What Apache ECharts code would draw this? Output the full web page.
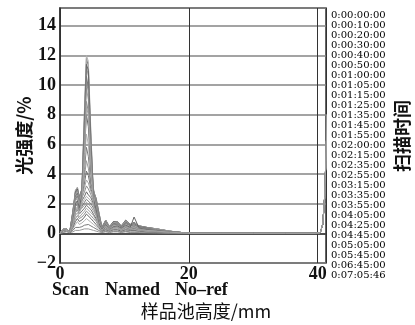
<!DOCTYPE html>
<html><head><meta charset="utf-8">
<script src="https://cdn.jsdelivr.net/npm/echarts@6/dist/echarts.min.js"></script>
<style>html,body{margin:0;padding:0;background:#fff}#c{width:415px;height:325px}</style>
</head><body><div id="c"></div>
<script>
// x positions (mm) of the sampled points in the active region
const xs = [0,0.5,1.0,1.5,2.0,2.4,2.7,3.0,3.4,3.8,4.1,4.4,4.8,5.2,5.6,6.0,6.5,7.1,7.7,8.3,8.9,9.5,10.2,10.9,11.5,12.3,13.5,15.0,17.0,19.0,20.5];
// flat tail and the spike at the top of the cell (shared by all scans)
const tailX = [25,30,35,39.6,40.4,40.8,41.1,41.5];
const tailY = [0,0,0,0,0.05,0.6,2.5,8];
const times = ["0:00:00:00","0:00:10:00","0:00:20:00","0:00:30:00","0:00:40:00","0:00:50:00","0:01:00:00","0:01:05:00","0:01:15:00","0:01:25:00","0:01:35:00","0:01:45:00","0:01:55:00","0:02:00:00","0:02:15:00","0:02:35:00","0:02:55:00","0:03:15:00","0:03:35:00","0:03:55:00","0:04:05:00","0:04:25:00","0:04:45:00","0:05:05:00","0:05:45:00","0:06:45:00","0:07:05:46"];
const t01=[0,0.05,0.1,0.05,0.1,0.2,0.25,0.2,0.25,0.3,0.35,0.3,0.25,0.2,0.15,0.1,0.05,0.1,0.05,0.1,0.1,0.05,0.1,0.05,0.05,0.05,0.04,0.03,0.02,0.01,0];
const t02=[0,0.1,0.15,0.05,0.2,0.4,0.5,0.4,0.45,0.55,0.65,0.6,0.5,0.4,0.3,0.2,0.1,0.15,0.1,0.15,0.15,0.1,0.15,0.1,0.1,0.08,0.06,0.05,0.03,0.01,0];
const t03=[0,0.15,0.2,0.05,0.3,0.6,0.8,0.6,0.7,0.85,1.0,0.9,0.75,0.6,0.45,0.3,0.1,0.2,0.1,0.2,0.2,0.12,0.2,0.15,0.15,0.1,0.08,0.06,0.04,0.02,0];
const t04=[0,0.2,0.25,0.05,0.4,0.8,1.0,0.8,0.9,1.1,1.3,1.2,1.0,0.8,0.6,0.4,0.15,0.25,0.15,0.25,0.25,0.15,0.25,0.2,0.2,0.15,0.1,0.08,0.05,0.02,0];
const t05=[0,0.2,0.25,0.05,0.5,1.0,1.2,1.0,1.1,1.3,1.5,1.4,1.2,1.0,0.8,0.5,0.15,0.3,0.15,0.3,0.3,0.2,0.3,0.25,0.25,0.2,0.15,0.1,0.06,0.03,0];
const t06=[0,0.25,0.3,0.05,0.6,1.2,1.4,1.1,1.3,1.5,1.7,1.6,1.4,1.2,0.9,0.6,0.2,0.35,0.2,0.35,0.35,0.2,0.35,0.3,0.3,0.2,0.15,0.12,0.07,0.03,0];
const t07=[0,0.25,0.3,0.05,0.7,1.4,1.6,1.3,1.5,1.7,1.9,1.8,1.6,1.3,1.0,0.7,0.2,0.4,0.2,0.4,0.4,0.25,0.4,0.3,0.35,0.25,0.2,0.15,0.08,0.03,0];
const t08=[0,0.25,0.3,0.05,0.8,1.6,1.8,1.5,1.7,1.9,2.1,2.0,1.8,1.5,1.2,0.8,0.25,0.45,0.25,0.45,0.45,0.25,0.45,0.35,0.4,0.3,0.2,0.15,0.08,0.03,0];
const t09=[0,0.3,0.3,0.05,0.9,1.8,2.0,1.6,1.8,2.1,2.3,2.2,2.0,1.7,1.3,0.9,0.25,0.5,0.3,0.5,0.5,0.3,0.5,0.4,0.45,0.3,0.25,0.2,0.1,0.04,0];
const t10=[0,0.3,0.3,0.05,1.0,2.0,2.2,1.8,2.0,2.3,2.5,2.4,2.2,1.9,1.5,1.0,0.3,0.55,0.3,0.55,0.55,0.3,0.55,0.4,0.5,0.35,0.25,0.2,0.1,0.04,0];
const t11=[0,0.3,0.3,0.05,1.1,2.2,2.4,2.0,2.2,2.5,2.8,2.6,2.4,2.0,1.6,1.1,0.3,0.6,0.3,0.6,0.6,0.35,0.6,0.45,0.5,0.35,0.3,0.2,0.1,0.04,0];
const t12=[0,0.3,0.3,0.05,1.2,2.4,2.6,2.1,2.4,2.8,3.2,3.0,2.6,2.2,1.8,1.2,0.35,0.6,0.35,0.6,0.6,0.35,0.65,0.5,0.55,0.4,0.3,0.25,0.12,0.05,0];
const t13=[0,0.3,0.3,0.05,1.3,2.6,2.8,2.2,2.5,3.1,3.6,3.4,2.8,2.4,2.0,1.3,0.35,0.65,0.35,0.65,0.65,0.4,0.7,0.5,0.6,0.4,0.3,0.25,0.12,0.05,0];
const t14=[0,0.3,0.3,0.05,1.4,2.7,2.9,2.3,2.6,3.4,4.2,3.9,3.0,2.5,2.2,1.4,0.4,0.7,0.4,0.7,0.7,0.4,0.7,0.55,0.6,0.45,0.35,0.25,0.12,0.05,0];
const t15=[0,0.3,0.3,0.05,1.5,2.8,3.0,2.4,2.7,3.8,4.9,4.4,3.2,2.6,2.3,1.5,0.4,0.75,0.4,0.75,0.7,0.45,0.75,0.55,0.65,0.45,0.35,0.3,0.15,0.05,0];
const t16=[0,0.3,0.3,0.05,1.5,2.9,3.1,2.5,2.8,4.3,5.8,5.2,3.4,2.7,2.4,1.5,0.45,0.8,0.45,0.8,0.75,0.45,0.8,0.6,0.7,0.5,0.4,0.3,0.15,0.05,0];
const t17=[0,0.3,0.3,0.05,1.5,2.9,3.1,2.5,2.9,4.8,6.7,6.0,3.8,2.8,2.4,1.4,0.45,0.85,0.45,0.8,0.8,0.5,0.85,0.6,0.7,0.5,0.4,0.3,0.15,0.05,0];
const t18=[0,0.3,0.3,0.05,1.4,2.8,3.0,2.4,3.0,5.5,8.0,7.2,4.2,2.9,2.3,1.3,0.4,0.9,0.45,0.8,0.8,0.5,0.9,0.6,0.75,0.5,0.4,0.3,0.15,0.05,0];
const t19=[0,0.3,0.3,0.05,1.3,2.7,2.9,2.3,3.0,6.0,8.9,8.2,4.6,3.0,2.2,1.2,0.4,0.9,0.4,0.75,0.8,0.5,0.85,0.6,0.7,0.5,0.4,0.3,0.15,0.05,0];
const t20=[0,0.3,0.3,0.05,1.2,2.6,2.8,2.2,3.0,6.6,9.8,9.0,5.0,2.9,2.1,1.1,0.35,0.85,0.4,0.7,0.75,0.45,0.8,0.55,0.7,0.45,0.35,0.3,0.15,0.05,0];
const t21=[0,0.3,0.3,0.05,1.1,2.5,2.7,2.1,3.0,7.2,10.6,9.8,5.5,2.8,2.0,1.0,0.35,0.8,0.35,0.65,0.7,0.45,0.75,0.55,0.65,0.45,0.35,0.25,0.12,0.05,0];
const t22=[0,0.3,0.3,0.05,1.0,2.4,2.6,2.0,3.0,7.8,11.3,10.6,6.0,2.7,1.9,0.9,0.3,0.75,0.35,0.6,0.65,0.4,0.7,0.5,0.6,0.4,0.3,0.25,0.12,0.05,0];
const t23=[0,0.3,0.3,0.05,0.9,2.3,2.5,1.9,3.0,8.2,11.8,11.3,6.5,2.6,1.8,0.8,0.3,0.7,0.3,0.55,0.6,0.4,0.65,0.5,0.55,0.4,0.3,0.2,0.1,0.04,0];
const t24=[0,0.3,0.3,0.05,0.9,2.2,2.4,1.8,2.9,8.4,12.0,11.6,6.8,2.5,1.7,0.8,0.25,0.65,0.3,0.5,0.55,0.35,0.6,0.45,0.5,0.35,0.25,0.2,0.1,0.04,0];
const t25=[0,0.3,0.3,0.05,0.8,2.0,2.2,1.7,2.6,7.6,11.4,11.0,6.2,2.3,1.6,0.7,0.25,0.6,0.25,0.45,0.5,0.35,0.55,0.4,1.1,0.35,0.25,0.2,0.1,0.04,0];
const t26=[0,0.3,0.3,0.05,0.7,1.8,2.0,1.5,2.3,6.6,10.2,9.6,5.4,2.1,1.4,0.6,0.2,0.55,0.25,0.4,0.45,0.3,0.5,0.35,0.45,0.3,0.2,0.15,0.08,0.03,0];
const t27=[0,0.3,0.3,0.05,0.6,1.5,1.7,1.3,2.0,5.4,8.5,8.0,4.6,1.8,1.2,0.5,0.2,0.5,0.2,0.35,0.4,0.25,0.45,0.3,0.4,0.25,0.2,0.15,0.08,0.03,0];
const curves=[t01,t02,t03,t04,t05,t06,t07,t08,t09,t10,t11,t12,t13,t14,t15,t16,t17,t18,t19,t20,t21,t22,t23,t24,t25,t26,t27];
const yTicks=[-2,0,2,4,6,8,10,12,14];
const xTicks=[0,20,40];

const grays=['#9a9a9a','#7a7a7a','#b0b0b0','#666666','#8c8c8c','#a4a4a4','#707070'];
const chart=echarts.init(document.getElementById('c'),null,{renderer:'canvas'});
const series=times.map((name,k)=>({
  type:'line',name:name,symbol:'none',showSymbol:false,animation:false,silent:true,
  lineStyle:{width:1,color:grays[k%grays.length]},itemStyle:{color:grays[k%grays.length]},
  data:xs.map((x,i)=>[x,curves[k][i]]).concat(tailX.map((x,i)=>[x,tailY[i]]))
}));
const serif='"Liberation Serif","Times New Roman",serif';
const cjk='"Noto Sans CJK SC",sans-serif';
chart.setOption({
  animation:false,
  backgroundColor:'#fff',
  grid:{left:60,right:89,top:8,bottom:60,show:true,borderColor:'#333',borderWidth:1.5,backgroundColor:'transparent'},
  legend:{orient:'vertical',left:326,top:10,padding:0,itemGap:0,itemWidth:0,itemHeight:0,icon:'rect',selectedMode:false,
    data:times,textStyle:{fontFamily:'"DejaVu Serif",serif',fontSize:10,lineHeight:9.65,color:'#000'}},
  xAxis:{type:'value',min:0,max:41.3,interval:20,
    axisLine:{show:true,lineStyle:{color:'#333',width:1.5}},axisTick:{show:false},
    splitLine:{show:true,lineStyle:{color:'#333',width:1}},
    axisLabel:{margin:2,fontFamily:serif,fontWeight:'bold',fontSize:18,color:'#111',
      formatter:v=>xTicks.indexOf(v)>=0?String(v):''},
    name:'样品池高度/mm',nameLocation:'middle',nameGap:39,nameMoveOverlap:false,
    nameTextStyle:{fontFamily:cjk,fontSize:18,color:'#111',padding:[0,0,0,26]}},
  yAxis:{type:'value',min:-2,max:15.2,interval:2,
    axisLine:{show:true,lineStyle:{color:'#333',width:1.5}},axisTick:{show:false},
    splitLine:{show:true,lineStyle:{color:'#858585',width:1.5}},
    axisLabel:{margin:4,fontFamily:serif,fontWeight:'bold',fontSize:18,color:'#111',
      formatter:v=>yTicks.indexOf(v)>=0?(v<0?'\u2212'+(-v):String(v)):''},
    name:'光强度/%',nameLocation:'middle',nameGap:27,nameRotate:90,nameMoveOverlap:false,
    nameTextStyle:{fontFamily:cjk,fontWeight:'bold',fontSize:18,color:'#111'}},
  graphic:[
    {type:'text',x:52,y:290.5,style:{text:'Scan',fontFamily:serif,fontWeight:'bold',fontSize:18,fill:'#111',verticalAlign:'middle'}},
    {type:'text',x:105,y:290.5,style:{text:'Named',fontFamily:serif,fontWeight:'bold',fontSize:18,fill:'#111',verticalAlign:'middle'}},
    {type:'text',x:175,y:290.5,style:{text:'No\u2013ref',fontFamily:serif,fontWeight:'bold',fontSize:18,fill:'#111',verticalAlign:'middle'}},
    {type:'text',x:402,y:136,rotation:Math.PI/2,style:{text:'扫描时间',fontFamily:cjk,fontWeight:'bold',fontSize:18,fill:'#111',align:'center',verticalAlign:'middle'}}
  ],
  series:series
});
</script></body></html>
